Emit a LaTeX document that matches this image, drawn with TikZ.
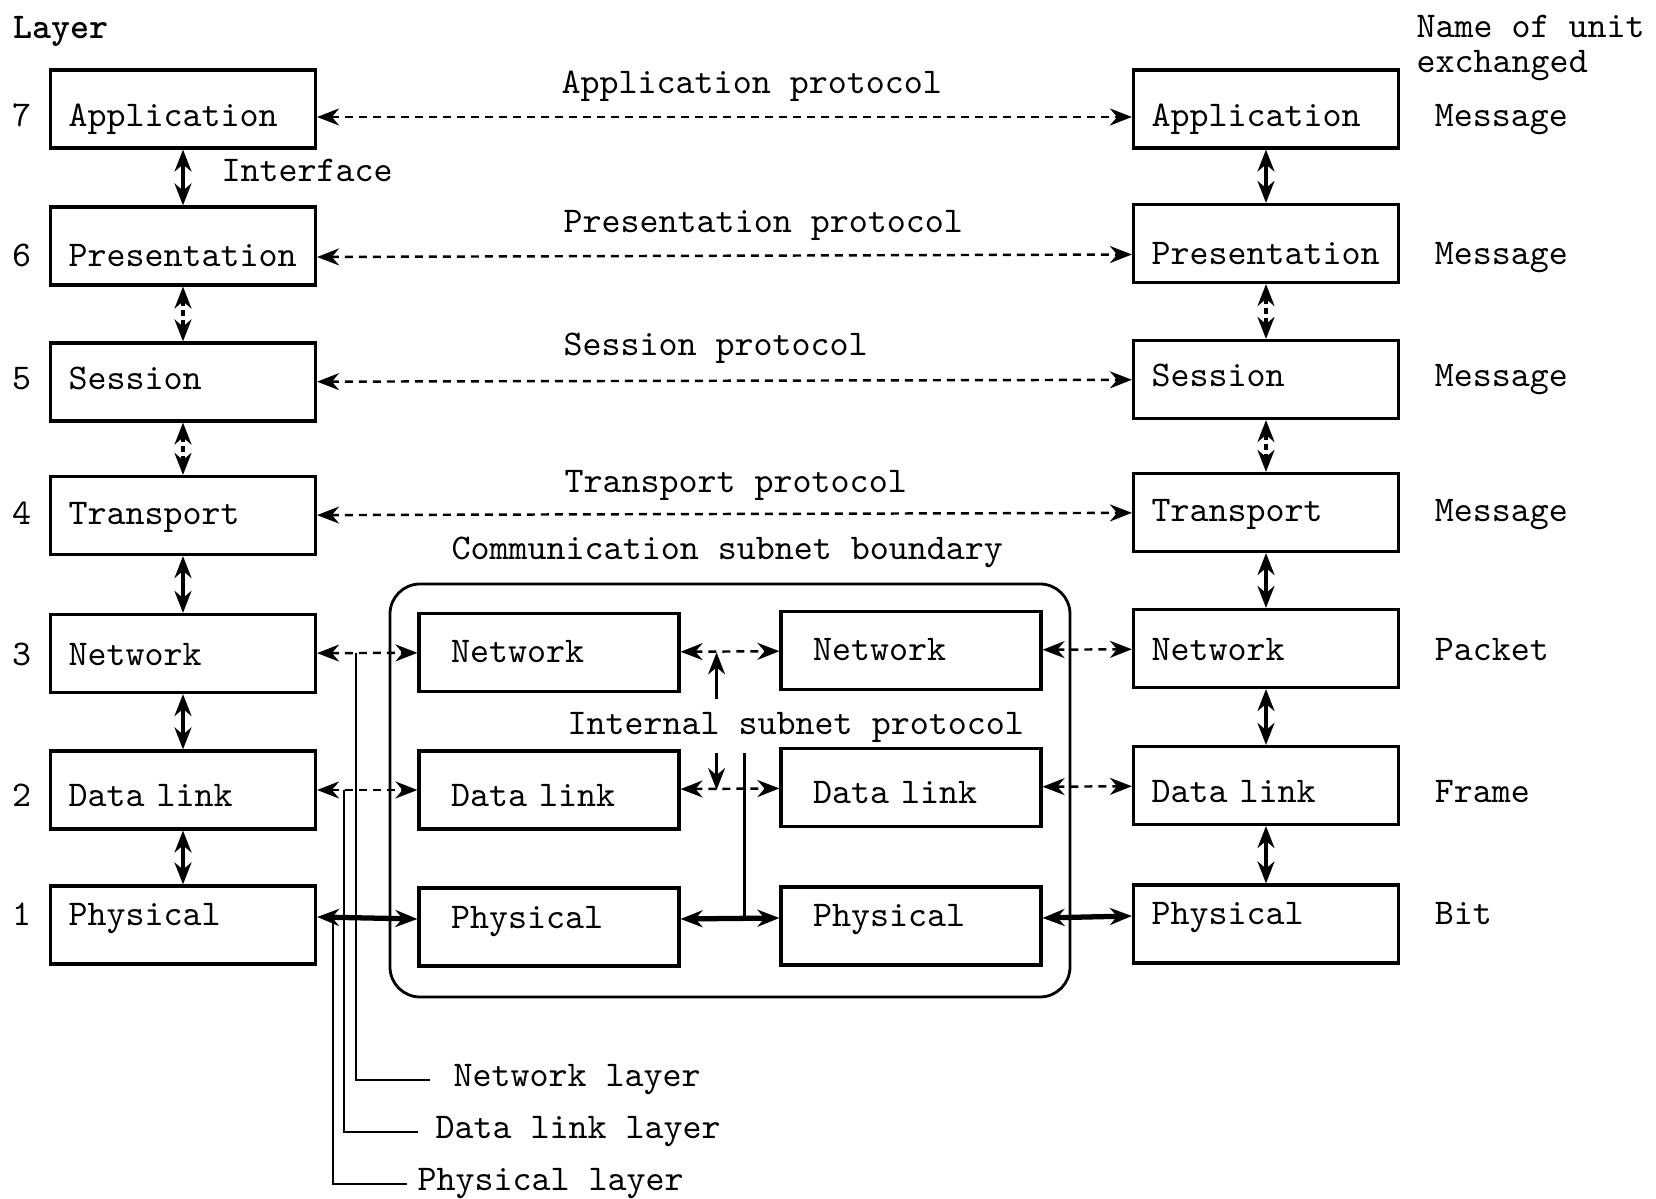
\documentclass[tikz,border=0pt]{standalone}
\usepackage{tikz}
\usetikzlibrary{arrows.meta,positioning,calc}

\begin{document}
\begin{tikzpicture}[>={Stealth[length=2.2mm,width=1.7mm]},
  tt/.style={font=\fontsize{10.3}{12}\selectfont\ttfamily},
  lbl/.style={tt,inner sep=0pt},
  layerbox/.style={tt,draw,line width=0.9pt,minimum height=0.78cm,inner ysep=0.1cm,
    text height=0.45cm,text depth=0.08cm,align=left},
  sidebox/.style={layerbox,inner xsep=0.18cm,text width=2.29cm},
  subbox/.style={layerbox,inner xsep=0.32cm,text width=1.96cm},
  num/.style={tt,inner xsep=0.05cm,text height=0.45cm,text depth=0.08cm},
  proto/.style={dash pattern=on 0.08cm off 0.06cm,line width=0.7pt,<->},
  iface/.style={line width=0.9pt,<->},
  wire/.style={line width=1.5pt,<->},
  lead/.style={line width=0.7pt}]
\useasboundingbox (0,0) rectangle (16.56,-11.99);
% headings
\node[lbl,anchor=west,font=\fontsize{10.3}{12}\selectfont\ttfamily\bfseries] (layer) at (0.13,-0.31) {Layer};
\node[lbl,anchor=north west,align=left,font=\fontsize{10.3}{10}\selectfont\ttfamily] (unitname) at (14.16,-0.14) {Name of unit\\exchanged};
% the two end systems
\foreach \n/\lay/\yl/\yr/\hgt/\unitname in {7/Application/1.09/1.09/0.44/Message,
    6/Presentation/2.46/2.435/0.50/Message, 5/Session/3.82/3.795/0.23/Message,
    4/Transport/5.155/5.125/0.27/Message, 3/Network/6.535/6.485/0.32/Packet,
    2/Data link/7.90/7.855/0.42/Frame, 1/Physical/9.25/9.24/0.10/Bit} {
  \node[sidebox,text height=\hgt cm] (L\n) at (1.83,-\yl) {\lay};
  \node[sidebox,text height=\hgt cm] (R\n) at (12.66,-\yr) {\lay};
  \node[num,text height=\hgt cm,left=0.12cm of L\n] (N\n) {\n};
  \node[num,text height=\hgt cm,right=0.29cm of R\n] (U\n) {\unitname};
}
% interfaces
\foreach \a/\b in {7/6,4/3,3/2,2/1} {
  \draw[iface] (L\a) -- (L\b);
  \draw[iface] (R\a) -- (R\b);
}
\foreach \a/\b in {6/5,5/4} {
  \draw[iface,dash pattern=on 0.06cm off 0.04cm] (L\a) -- (L\b);
  \draw[iface,dash pattern=on 0.06cm off 0.04cm] (R\a) -- (R\b);
}
\node[lbl,anchor=west] (iface) at (2.21,-1.70) {Interface};
% peer protocols
\draw[proto] ([yshift=-0.08cm]L7.east) -- ([yshift=-0.08cm]R7.west);
\draw[proto] ([yshift=-0.11cm]L6.east) -- ([yshift=-0.11cm]R6.west);
\draw[proto] (L5) -- (R5);
\draw[proto] (L4) -- (R4);
\node[lbl,anchor=west] (ap) at (5.61,-0.86) {Application protocol};
\node[lbl,anchor=west] (pp) at (5.63,-2.25) {Presentation protocol};
\node[lbl,anchor=west] (sp) at (5.63,-3.48) {Session protocol};
\node[lbl,anchor=west] (tp) at (5.64,-4.85) {Transport protocol};
% communication subnet
\draw[line width=0.8pt,rounded corners=0.3cm] (3.90,-5.84) rectangle (10.70,-9.97);
\node[lbl,anchor=west] (csb) at (4.51,-5.52) {Communication subnet boundary};
\node[subbox,text height=0.29cm] (ML3) at (5.49,-6.525) {Network};
\node[subbox,text height=0.42cm] (ML2) at (5.49,-7.90) {Data link};
\node[subbox,text height=0.12cm] (ML1) at (5.49,-9.27) {Physical};
\node[subbox,text height=0.29cm] (MR3) at (9.11,-6.505) {Network};
\node[subbox,text height=0.40cm] (MR2) at (9.11,-7.875) {Data link};
\node[subbox,text height=0.10cm] (MR1) at (9.11,-9.26) {Physical};
\foreach \n in {3,2} {
  \draw[proto] (L\n) -- (ML\n);
  \draw[proto] (ML\n) -- (MR\n);
  \draw[proto] (MR\n) -- (R\n);
}
\draw[wire] ([yshift=0.08cm]L1.east) -- ([yshift=0.08cm]ML1.west);
\draw[wire] ([yshift=0.08cm]ML1.east) -- ([yshift=0.08cm]MR1.west);
\draw[wire] ([yshift=0.08cm]MR1.east) -- ([yshift=0.08cm]R1.west);
% internal subnet protocol
\node[lbl,anchor=west] (isp) at (5.67,-7.27) {Internal subnet protocol};
\coordinate (up3) at ($(ML3.east)+(0.36,0)$);
\coordinate (dn2) at ($(ML2.east)+(0.36,0)$);
\coordinate (ph1) at ($(ML1.east)+(0.64,0.08)$);
\draw[lead,->] ($(up3)+(0,-0.47)$) -- (up3);
\draw[lead,->] ($(dn2)+(0,0.37)$) -- (dn2);
\draw[lead] ($(ph1)+(0,1.66)$) -- (ph1);
% which layers are in the subnet
\coordinate (nettap) at ($(L3.east)+(0.39,0)$);
\coordinate (dltap) at ($(L2.east)+(0.27,0)$);
\coordinate (phytap) at ($(L1.east)+(0.16,0.08)$);
\node[lbl,anchor=west] (netlay) at (4.53,-10.80) {Network layer};
\node[lbl,anchor=west] (dllay) at (4.35,-11.32) {Data link layer};
\node[lbl,anchor=west] (phylay) at (4.17,-11.84) {Physical layer};
\draw[lead] (nettap) |- ([xshift=-0.23cm]netlay.west);
\draw[lead] (dltap) |- ([xshift=-0.17cm]dllay.west);
\draw[lead] (phytap) |- ([xshift=-0.10cm]phylay.west);
\end{tikzpicture}
\end{document}
